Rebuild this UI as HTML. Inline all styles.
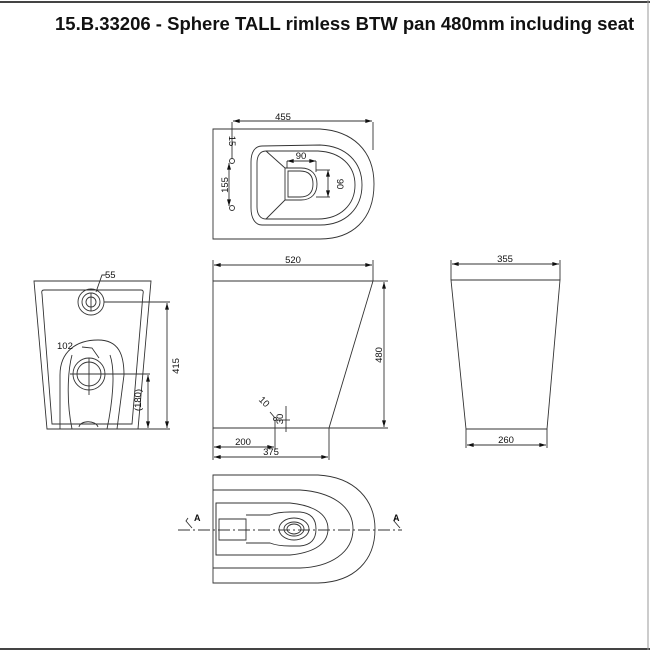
<!DOCTYPE html>
<html><head><meta charset="utf-8"><style>
html,body{margin:0;padding:0;background:#fff}
svg{display:block}
text{font-family:"Liberation Sans",Arial,sans-serif;fill:#111}
</style></head><body>
<svg width="650" height="650" viewBox="0 0 650 650" xmlns="http://www.w3.org/2000/svg">
<defs>
<marker id="a" viewBox="0 0 10 6" refX="10" refY="3" markerWidth="8" markerHeight="4" orient="auto-start-reverse" markerUnits="userSpaceOnUse"><path d="M0,0L10,3L0,6z" fill="#111"/></marker>
</defs>
<line x1="0" y1="2" x2="650" y2="2" stroke="#444" stroke-width="2"/>
<line x1="0" y1="649" x2="650" y2="649" stroke="#444" stroke-width="2"/>
<line x1="648" y1="0" x2="648" y2="650" stroke="#999" stroke-width="1"/>
<text x="55" y="30" font-size="18.5" font-weight="bold">15.B.33206 - Sphere TALL rimless BTW pan 480mm including seat</text>

<g fill="none" stroke="#333" stroke-width="0.9">
<!-- TOP VIEW -->
<path d="M213,129 L320,129 C352,131 374,150 374,184 C374,220 352,239 320,239 L213,239 Z"/>
<line x1="232" y1="122" x2="232" y2="159"/>
<line x1="373" y1="122" x2="373" y2="150"/>
<line x1="233" y1="121" x2="372" y2="121" marker-start="url(#a)" marker-end="url(#a)"/>
<path d="M262,146 L320,145 C346,146 362,162 362,185 C362,208 346,225 320,225 L262,225 C255,225 251,218 251,208 L251,162 C251,152 255,146 262,146 Z"/>
<path d="M266,151 L318,151 C340,152 355,165 355,185 C355,205 340,219 318,219 L266,219 C260,219 257,214 257,207 L257,163 C257,156 260,151 266,151 Z"/>
<path d="M285,168 L301,168 C312,168 317,175 317,184 C317,193 312,200 301,200 L285,200 Z"/>
<path d="M288,171 L300,171 C309,171 313,176 313,184 C313,192 309,197 300,197 L288,197 Z"/>
<line x1="266" y1="151" x2="285" y2="168"/><line x1="266" y1="219" x2="285" y2="200"/>
<line x1="287" y1="161" x2="316" y2="161" marker-start="url(#a)" marker-end="url(#a)"/>
<line x1="287" y1="161" x2="287" y2="168"/><line x1="316" y1="161" x2="316" y2="172"/>
<line x1="328" y1="170" x2="328" y2="197" marker-start="url(#a)" marker-end="url(#a)"/>
<line x1="316" y1="170" x2="330" y2="170"/><line x1="316" y1="197" x2="330" y2="197"/>
<circle cx="232" cy="161" r="2.5"/><circle cx="232" cy="208" r="2.5"/>
<line x1="229" y1="163" x2="229" y2="206" marker-start="url(#a)" marker-end="url(#a)"/>

<!-- FRONT VIEW -->
<path d="M34,281 L151,281 L138,429 L47,429 Z"/>
<path d="M44,290 L141,290 Q144,290 143,294 L132,424 L52,424 L42,294 Q41,290 44,290 Z"/>
<circle cx="91" cy="302" r="13"/><circle cx="91" cy="302" r="9"/><circle cx="91" cy="302" r="5"/>
<line x1="91" y1="293" x2="91" y2="311"/>
<line x1="104" y1="302" x2="170" y2="302"/>
<line x1="167" y1="303" x2="167" y2="428" marker-start="url(#a)" marker-end="url(#a)"/>
<line x1="138" y1="429" x2="170" y2="429"/>
<path d="M60,429 L60,375 C60,351 77,340 98,340 C119,340 124,355 124,375 L117,429"/>
<path d="M72,429 C66,400 68,370 72,355"/>
<path d="M110,355 C116,372 112,405 107,429"/>
<path d="M79,427 C80,420 96,420 98,427"/>
<circle cx="89" cy="374" r="16"/><circle cx="89" cy="374" r="12"/>
<line x1="70" y1="374" x2="150" y2="374"/><line x1="89" y1="358" x2="89" y2="395"/>
<line x1="148" y1="375" x2="148" y2="428" marker-start="url(#a)" marker-end="url(#a)"/>
<polyline points="82,347 92,348 99,358"/>
<polyline points="106,275 102,275 96,292"/>

<!-- SIDE VIEW -->
<path d="M213,281 L373,281 Q355,340 329,428 L213,428 Z"/>
<line x1="213" y1="260" x2="213" y2="281"/><line x1="373" y1="260" x2="373" y2="281"/>
<line x1="214" y1="265" x2="372" y2="265" marker-start="url(#a)" marker-end="url(#a)"/>
<line x1="373" y1="281" x2="388" y2="281"/><line x1="329" y1="428" x2="388" y2="428"/>
<line x1="384" y1="282" x2="384" y2="427" marker-start="url(#a)" marker-end="url(#a)"/>
<line x1="213" y1="428" x2="213" y2="460"/><line x1="329" y1="428" x2="329" y2="460"/>
<line x1="275" y1="420" x2="275" y2="450"/>
<line x1="214" y1="447" x2="274" y2="447" marker-start="url(#a)" marker-end="url(#a)"/>
<line x1="214" y1="457" x2="328" y2="457" marker-start="url(#a)" marker-end="url(#a)"/>
<line x1="286" y1="406" x2="286" y2="432"/>
<line x1="276" y1="420" x2="290" y2="420"/>
<line x1="270" y1="412" x2="275" y2="418"/>
<circle cx="275" cy="419" r="1.5"/>

<!-- RIGHT VIEW -->
<path d="M451,280 L560,280 L547,429 L466,429 Z"/>
<line x1="451" y1="260" x2="451" y2="280"/><line x1="560" y1="260" x2="560" y2="280"/>
<line x1="452" y1="264" x2="559" y2="264" marker-start="url(#a)" marker-end="url(#a)"/>
<line x1="466" y1="429" x2="466" y2="448"/><line x1="547" y1="429" x2="547" y2="448"/>
<line x1="467" y1="445" x2="546" y2="445" marker-start="url(#a)" marker-end="url(#a)"/>

<!-- BOTTOM VIEW -->
<path d="M213,475 L318,475 C355,477 375,500 375,529 C375,560 355,582 318,583 L213,583 Z"/>
<path d="M213,490 L300,490 C330,492 353,505 353,529 C353,553 330,567 300,568 L213,568"/>
<path d="M216,503 L290,503 C310,505 328,512 328,529 C328,546 310,553 290,555 L216,555 Z"/>
<path d="M216,503 L216,555"/>
<path d="M219,519 L246,519 L246,540 L219,540 Z"/>
<path d="M246,515 L270,515 C275,513 282,512 290,512 L300,512 C312,513 316,520 316,529 C316,538 312,545 300,546 L290,546 C282,546 275,545 270,543 L246,543"/>
<ellipse cx="294" cy="529" rx="15" ry="11"/>
<ellipse cx="294" cy="529" rx="10" ry="7"/>
<ellipse cx="294" cy="529" rx="7" ry="5"/>
<line x1="178" y1="530" x2="402" y2="530" stroke-dasharray="12,3,2,3"/>
<polyline points="188,518 186,521 192,528"/>
<polyline points="396,518 394,521 400,528"/>
</g>

<g font-size="9.5">
<text x="283" y="120" text-anchor="middle">455</text>
<text x="301" y="159" text-anchor="middle">90</text>
<text transform="translate(337,184) rotate(90)" text-anchor="middle">90</text>
<text transform="translate(229,141) rotate(90)" text-anchor="middle">15</text>
<text transform="translate(228,185) rotate(-90)" text-anchor="middle">155</text>
<text x="105" y="278">55</text>
<text x="57" y="349">102</text>
<text transform="translate(179,366) rotate(-90)" text-anchor="middle">415</text>
<text transform="translate(141,400) rotate(-90)" text-anchor="middle">(180)</text>
<text x="293" y="263" text-anchor="middle">520</text>
<text transform="translate(382,355) rotate(-90)" text-anchor="middle">480</text>
<text transform="translate(283,419) rotate(-90)" text-anchor="middle">30</text>
<text transform="translate(262,404) rotate(45)" text-anchor="middle">10</text>
<text x="243" y="445" text-anchor="middle">200</text>
<text x="271" y="455" text-anchor="middle">375</text>
<text x="505" y="262" text-anchor="middle">355</text>
<text x="506" y="443" text-anchor="middle">260</text>
<text x="194" y="521" font-weight="bold" font-size="9">A</text>
<text x="393" y="521" font-weight="bold" font-size="9">A</text>
</g>
</svg>
</body></html>
